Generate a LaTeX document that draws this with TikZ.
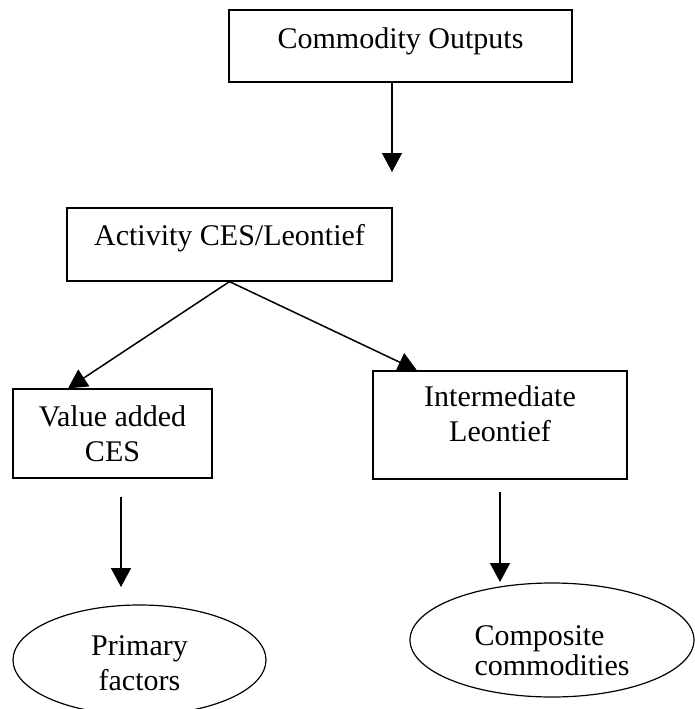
\documentclass[tikz,border=0pt]{standalone}
\usepackage{fontspec}
\setmainfont{Liberation Serif}
\usetikzlibrary{arrows.meta, shapes.geometric}

\begin{document}
\begin{tikzpicture}[x=0.5pt, y=-0.5pt,
		box/.style={draw, rectangle, line width=0.6pt, align=center, inner sep=0pt},
		oval/.style={draw, ellipse, line width=0.6pt, align=center, inner sep=0pt},
		>={Triangle[length=9.5pt,width=10pt]},   %Pfeilspitzen
		font=\fontsize{15}{17.5}\selectfont]
		% Bildbereich
		\useasboundingbox (0,0) rectangle (695,709);
		\clip (0,0) rectangle (695,709);
		% Kaesten zeichnen
		\node[box, minimum width=171.5pt, minimum height=36pt] (outputs) at (400.5,46) {Commodity Outputs\rule[-8.3pt]{0pt}{8.3pt}};
		\node[box, minimum width=162.5pt, minimum height=36.5pt] (activity) at (229.5,244.5) {Activity CES/Leontief\rule[-9.3pt]{0pt}{9.3pt}};
		\node[box, minimum width=99.5pt, minimum height=44.5pt] (valueadded) at (112.5,433.5) {Value added\\CES};
		\node[box, minimum width=127pt, minimum height=54pt] (intermediate) at (500,425) {Intermediate\\Leontief\rule[-11.3pt]{0pt}{11.3pt}};
		% Ellipsen zeichnen
		\node[oval, minimum width=126.5pt, minimum height=55pt] (primary) at (139.5,660) {\rule{0pt}{13.5pt}Primary\\factors};
		\node[oval, align=left, minimum width=142pt, minimum height=57pt] (composite) at (552,640) {\rule{0pt}{21pt}Composite\\[-2.5pt]commodities};
		% Pfeilenden
		\coordinate (outend) at (392,172);
		\coordinate (vastart) at (121,497);
		\coordinate (vaend) at (121,587);
		\coordinate (imstart) at (500,492);
		\coordinate (imend) at (500,582);
		% Pfeile zeichnen
		\draw[->, line width=0.75pt] ([xshift=-4.25pt]outputs.south) -- (outend);
		\draw[->, line width=0.75pt] (activity.south) -- ([xshift=-22.25pt]valueadded.north);
		\draw[->, line width=0.75pt] (activity.south) -- ([xshift=-41.5pt]intermediate.north);
		\draw[->, line width=0.75pt] (vastart) -- (vaend);
		\draw[->, line width=0.75pt] (imstart) -- (imend);
	\end{tikzpicture}
\end{document}
